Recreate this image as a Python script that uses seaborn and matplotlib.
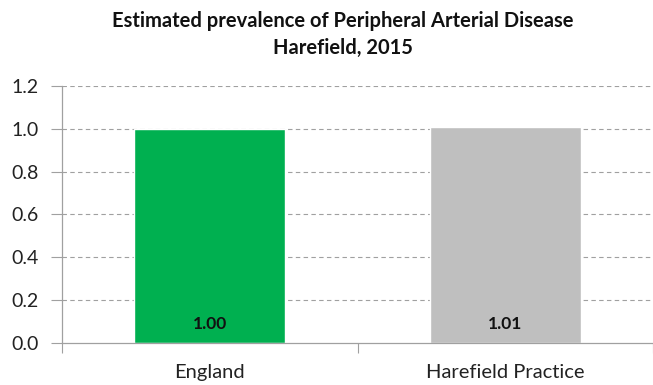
import matplotlib
matplotlib.use("Agg")
import matplotlib.pyplot as plt
import seaborn as sns
import pandas as pd

categories = ["England", "Harefield Practice"]
values = [1.00, 1.01]
bar_colors = ["#00B050", "#BFBFBF"]
yticks = [0.0, 0.2, 0.4, 0.6, 0.8, 1.0, 1.2]

sns.set_theme(style="white")
plt.rcParams["font.family"] = ["Lato", "DejaVu Sans"]

df = pd.DataFrame({"area": categories, "prevalence": values})

fig = plt.figure(figsize=(6.53, 3.85), dpi=100)
ax = fig.add_axes([0.095, 0.109, 0.905, 0.668])

sns.barplot(data=df, x="area", y="prevalence", hue="area", palette=bar_colors,
            width=0.51, legend=False, ax=ax, saturation=1)

ax.set_ylim(0, 1.2)
ax.set_xlim(-0.5, 1.5)
ax.set_yticks(yticks)
ax.set_yticklabels([f"{v:.1f}" for v in yticks], fontsize=14, color="#222222")
ax.set_xlabel("")
ax.set_ylabel("")
ax.tick_params(axis="x", labelsize=14.5, colors="#222222", length=0, pad=15)
ax.tick_params(axis="y", length=8, width=0.8, color="#A0A0A0", pad=9, left=True)

# category separators below the axis
ax.set_xticks([-0.5, 0.5, 1.5], minor=True)
ax.tick_params(axis="x", which="minor", length=7, width=0.8, color="#A0A0A0", bottom=True)

for y in yticks[1:]:
    ax.axhline(y, color="#A0A0A0", lw=0.8, ls=(0, (4, 3)), zorder=0)

for s in ["top", "right"]:
    ax.spines[s].set_visible(False)
for s in ["left", "bottom"]:
    ax.spines[s].set_color("#A0A0A0")
    ax.spines[s].set_linewidth(0.9)

for i, v in enumerate(values):
    ax.text(i, 0.087, f"{v:.2f}", ha="center", va="center", fontsize=12.5,
            fontweight="bold", color="#111111")

fig.text(0.525, 0.945, "Estimated prevalence of Peripheral Arterial Disease",
         ha="center", va="center", fontsize=14.5, fontweight="bold", color="#111111")
fig.text(0.525, 0.875, "Harefield, 2015", ha="center", va="center",
         fontsize=14.5, fontweight="bold", color="#111111")

fig.savefig("out.png", dpi=100)
